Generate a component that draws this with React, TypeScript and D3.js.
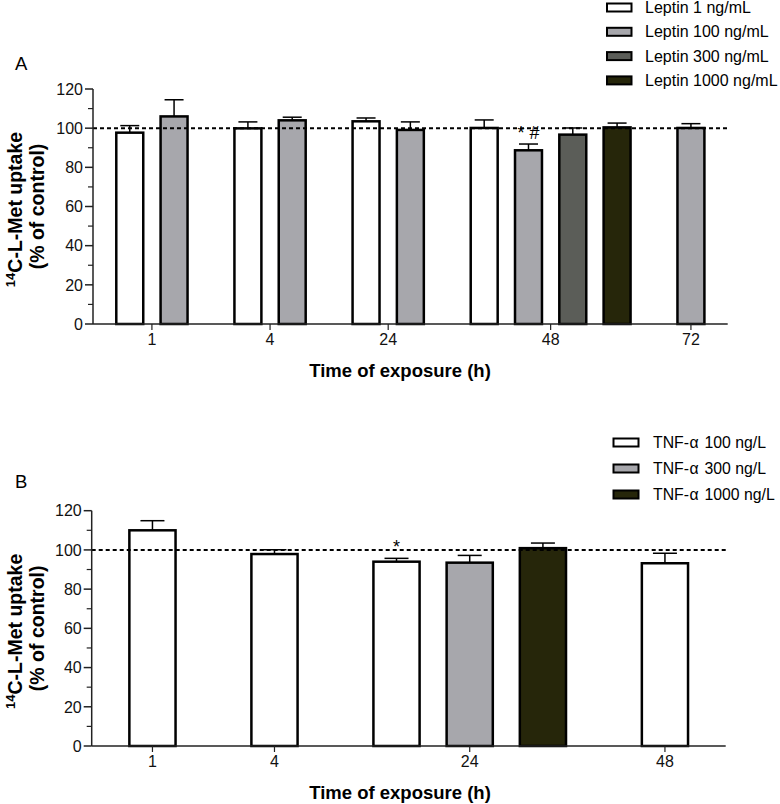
import React from "react";
import * as d3 from "d3";

// ---------- DATA ----------
const timesA = ["1", "4", "24", "48", "72"];
const seriesA = ["Leptin 1 ng/mL", "Leptin 100 ng/mL", "Leptin 300 ng/mL", "Leptin 1000 ng/mL"];
const leptin1 = [97.7, 99.9, 103.5, 100.1, null];
const leptin1Err = [3.6, 3.3, 1.7, 4.1, null];
const leptin100 = [106.0, 104.0, 99.1, 88.7, 100.1];
const leptin100Err = [8.5, 1.6, 4.1, 3.2, 2.2];
const leptin300 = [null, null, null, 96.7, null];
const leptin300Err = [null, null, null, 3.4, null];
const leptin1000 = [null, null, null, 100.4, null];
const leptin1000Err = [null, null, null, 2.2, null];
const annotA = [{ time: "48", series: 1, text: "* #" }];

const timesB = ["1", "4", "24", "48"];
const seriesB = ["TNF-\u03b1 100 ng/L", "TNF-\u03b1 300 ng/L", "TNF-\u03b1 1000 ng/L"];
const tnf100 = [110.0, 97.9, 94.0, 93.2];
const tnf100Err = [4.9, 2.2, 1.7, 5.1];
const tnf300 = [null, null, 93.5, null];
const tnf300Err = [null, null, 3.7, null];
const tnf1000 = [null, null, 100.9, null];
const tnf1000Err = [null, null, 2.6, null];
const annotB = [{ time: "24", series: 0, text: "*" }];

const yTicks = [0, 20, 40, 60, 80, 100, 120];
const yMinorTicks = [10, 30, 50, 70, 90, 110];
const refLine = 100;

const colorsA = ["#ffffff", "#a7a7ac", "#5b5d58", "#26260a"];
const colorsB = ["#ffffff", "#a7a7ac", "#26260a"];

const FONT = "'Liberation Sans', Arial, Helvetica, sans-serif";

type Bar = { time: string; series: number; value: number; err: number; u: number };

function layout(times: string[], vals: (number | null)[][], errs: (number | null)[][]) {
  const pad = 0.83;
  const gap = 0.667;
  const bars: Bar[] = [];
  const groupCenters: { time: string; u: number }[] = [];
  let u = pad;
  times.forEach((t, ti) => {
    const inGroup: number[] = [];
    vals.forEach((s, si) => {
      const v = s[ti];
      if (v !== null && v !== undefined) inGroup.push(si);
    });
    const start = u;
    inGroup.forEach((si, k) => {
      bars.push({ time: t, series: si, value: vals[si][ti] as number, err: (errs[si][ti] as number) || 0, u: start + k });
    });
    const end = start + inGroup.length - 1;
    groupCenters.push({ time: t, u: (start + end) / 2 });
    u = end + 1 + gap;
  });
  const total = u - 1 - gap + pad;
  return { bars, groupCenters, total };
}

function LegendLabel({ text }: { text: string }) {
  const idx = text.indexOf("\u03b1");
  if (idx < 0) return <>{text}</>;
  return (
    <>
      <tspan>{text.slice(0, idx)}</tspan>
      <tspan dx={0.5}>{"\u03b1"}</tspan>
      <tspan dx={1.5}>{text.slice(idx + 1)}</tspan>
    </>
  );
}

type PanelProps = {
  letter: string;
  letterPos: [number, number];
  times: string[];
  vals: (number | null)[][];
  errs: (number | null)[][];
  colors: string[];
  series: string[];
  annots: { time: string; series: number; text: string }[];
  x0: number; x1: number; yTop: number; yBot: number;
  capW: number;
  legendX: number; legendTextX: number; legendY0: number; legendStep: number; legendW: number;
  legendFont: number;
};

function Panel(p: PanelProps) {
  const { bars, groupCenters, total } = layout(p.times, p.vals, p.errs);
  const x = d3.scaleLinear().domain([0, total]).range([p.x0, p.x1]);
  const y = d3.scaleLinear().domain([0, 120]).range([p.yBot, p.yTop]);
  const bw = x(0.665) - x(0);
  const midY = (p.yTop + p.yBot) / 2;
  const axisColor = "#222";
  return (
    <g fontFamily={FONT}>
      <text x={p.letterPos[0]} y={p.letterPos[1]} fontSize={18.5} fill="#000">{p.letter}</text>
      {/* legend */}
      {p.series.map((s, i) => (
        <g key={s}>
          <rect x={p.legendX} y={p.legendY0 + i * p.legendStep - 4} width={p.legendW} height={8}
            fill={p.colors[i]} stroke="#000" strokeWidth={2} />
          <text x={p.legendTextX} y={p.legendY0 + i * p.legendStep + 5.6} fontSize={p.legendFont} fill="#000">
            <LegendLabel text={s} />
          </text>
        </g>
      ))}
      {/* bars */}
      {bars.map((b, i) => {
        const cx = x(b.u);
        const top = y(b.value);
        const et = y(b.value + b.err);
        return (
          <g key={i}>
            <line x1={cx} x2={cx} y1={top} y2={et} stroke="#000" strokeWidth={1.5} />
            <line x1={cx - p.capW / 2} x2={cx + p.capW / 2} y1={et} y2={et} stroke="#000" strokeWidth={1.5} />
            <rect x={cx - bw / 2 + 1.25} y={top} width={bw - 2.5} height={y(0) - top}
              fill={p.colors[b.series]} stroke="#000" strokeWidth={2.5} />
          </g>
        );
      })}
      {/* reference line */}
      <line x1={p.x0} x2={p.x1} y1={y(refLine)} y2={y(refLine)} stroke="#000" strokeWidth={2} strokeDasharray="4,3" />
      {/* annotations */}
      {p.annots.map((a, i) => {
        const b = bars.find((bb) => bb.time === a.time && bb.series === a.series)!;
        return (
          <text key={i} x={x(b.u)} y={y(b.value + b.err) - 5} textAnchor="middle" fontSize={18} fill="#000">{a.text}</text>
        );
      })}
      {/* y axis */}
      <line x1={p.x0} x2={p.x0} y1={p.yTop} y2={p.yBot} stroke={axisColor} strokeWidth={1.5} />
      {yTicks.map((t) => (
        <g key={t}>
          <line x1={p.x0 - 8} x2={p.x0} y1={y(t)} y2={y(t)} stroke={axisColor} strokeWidth={1.5} />
          <text x={p.x0 - 10} y={y(t)} dy="0.36em" textAnchor="end" fontSize={16} fill="#111">{t}</text>
        </g>
      ))}
      {yMinorTicks.map((t) => (
        <line key={t} x1={p.x0 - 5} x2={p.x0} y1={y(t)} y2={y(t)} stroke={axisColor} strokeWidth={1.2} />
      ))}
      {/* x axis */}
      <line x1={p.x0} x2={p.x1} y1={p.yBot} y2={p.yBot} stroke={axisColor} strokeWidth={1.5} />
      {groupCenters.map((g) => (
        <g key={g.time}>
          <line x1={x(g.u)} x2={x(g.u)} y1={p.yBot} y2={p.yBot + 6} stroke={axisColor} strokeWidth={1.2} />
          <text x={x(g.u)} y={p.yBot + 21} textAnchor="middle" fontSize={16} fill="#111">{g.time}</text>
        </g>
      ))}
      <text x={400} y={p.yBot + 52.5} textAnchor="middle" fontSize={18.5} fontWeight="bold" fill="#000">Time of exposure (h)</text>
      {/* y title */}
      <text transform={`translate(21.5, ${midY + 3}) rotate(-90)`} textAnchor="middle" fontSize={19.5} fontWeight="bold" fill="#000">
        <tspan fontSize={13} dy={-7}>14</tspan><tspan dy={7}>C-L-Met uptake</tspan>
      </text>
      <text transform={`translate(44, ${midY}) rotate(-90)`} textAnchor="middle" fontSize={19.5} fontWeight="bold" fill="#000">(% of control)</text>
    </g>
  );
}

export default function App() {
  return (
    <svg width={780} height={804} style={{ position: "absolute", left: 0, top: 0, background: "#fff" }}>
      <rect x={0} y={0} width={780} height={804} fill="#fff" />
      <Panel letter="A" letterPos={[15, 70]} times={timesA}
        vals={[leptin1, leptin100, leptin300, leptin1000]}
        errs={[leptin1Err, leptin100Err, leptin300Err, leptin1000Err]}
        colors={colorsA} series={seriesA} annots={annotA}
        x0={93} x1={727.7} yTop={89} yBot={324} capW={19}
        legendX={607} legendTextX={645} legendY0={7.5} legendStep={24.3} legendW={24.5} legendFont={16} />
      <Panel letter="B" letterPos={[15, 488]} times={timesB}
        vals={[tnf100, tnf300, tnf1000]}
        errs={[tnf100Err, tnf300Err, tnf1000Err]}
        colors={colorsB} series={seriesB} annots={annotB}
        x0={91.7} x1={725.7} yTop={510.7} yBot={746} capW={24}
        legendX={613.5} legendTextX={653} legendY0={442.5} legendStep={26} legendW={25} legendFont={15.8} />
    </svg>
  );
}
